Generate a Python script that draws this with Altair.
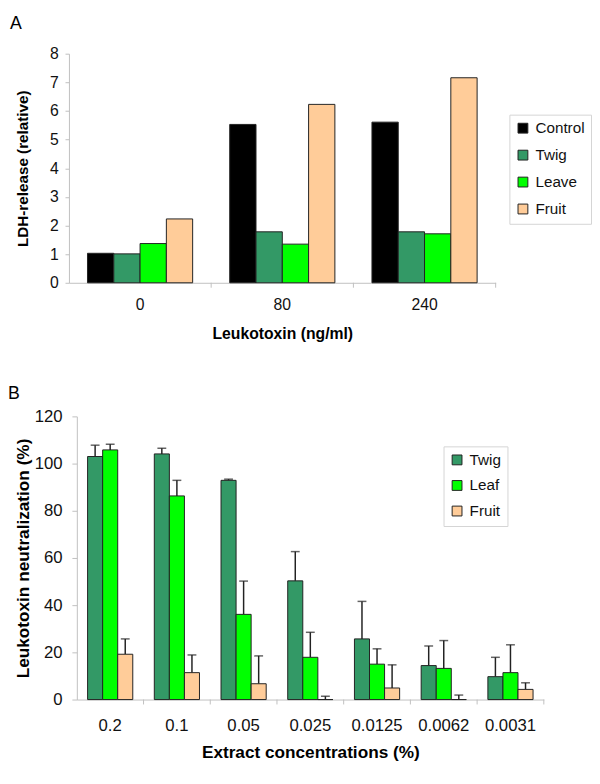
import altair as alt
import pandas as pd

# ---------------- Panel A data ----------------
a_doses = ["0", "80", "240"]
a_series = ["Control", "Twig", "Leave", "Fruit"]
a_control = [1.03, 5.53, 5.61]
a_twig = [1.01, 1.78, 1.78]
a_leave = [1.37, 1.35, 1.71]
a_fruit = [2.23, 6.23, 7.16]
a_colors = ["#000000", "#339966", "#00FF00", "#FFCC99"]

# ---------------- Panel B data ----------------
b_conc = ["0.2", "0.1", "0.05", "0.025", "0.0125", "0.0062", "0.0031"]
b_series = ["Twig", "Leaf", "Fruit"]
b_twig = [103.0, 104.1, 92.9, 50.3, 25.7, 14.4, 9.7]
b_twig_sd = [4.8, 2.4, 0.5, 12.4, 15.9, 8.3, 8.2]
b_leaf = [105.8, 86.3, 36.1, 17.9, 15.0, 13.2, 11.4]
b_leaf_sd = [2.4, 6.6, 14.1, 10.6, 6.5, 11.8, 11.8]
b_fruit = [19.2, 11.4, 6.7, 0.0, 4.9, 0.0, 4.3]
b_fruit_sd = [6.5, 7.5, 11.8, 1.4, 9.8, 1.9, 2.8]
b_colors = ["#339966", "#00FF00", "#FFCC99"]

rows_a = []
for s, vals in zip(a_series, [a_control, a_twig, a_leave, a_fruit]):
    for d, v in zip(a_doses, vals):
        rows_a.append({"dose": d, "series": s, "value": v})
df_a = pd.DataFrame(rows_a)

rows_b = []
for s, vals, sds in zip(b_series, [b_twig, b_leaf, b_fruit],
                        [b_twig_sd, b_leaf_sd, b_fruit_sd]):
    for c, v, e in zip(b_conc, vals, sds):
        rows_b.append({"conc": c, "series": s, "value": v, "upper": v + e})
df_b = pd.DataFrame(rows_b)

AX = "#c0c0c0"
INK = "#222222"

# ---------------- Panel A ----------------
A_W, A_H = 426, 233
ax_a = alt.Axis(labelAngle=0, ticks=False, domainColor=AX, labelFontSize=16,
                labelPadding=13.8, labelColor="#111111",
                titleFontSize=16, titleFontWeight="bold",
                titlePadding=13.7, titleColor="#000000")
sc_a = alt.Scale(range=[-8, 426], paddingInner=0, paddingOuter=0)
xoa = alt.XOffset("series:N", sort=a_series,
                  scale=alt.Scale(paddingOuter=0.705, paddingInner=0))
ya = alt.Y("value:Q", scale=alt.Scale(domain=[0, 8], nice=False),
           title="LDH-release (relative)",
           axis=alt.Axis(values=list(range(9)), offset=8, grid=False,
                         domainColor=AX, tickColor=AX, tickSize=4,
                         labelFontSize=16, labelPadding=7, labelColor="#111111",
                         titleFontSize=15.5, titleFontWeight="bold",
                         titlePadding=19.5, titleColor="#000000"))

bars_a = alt.Chart(df_a).mark_bar(stroke=INK, strokeWidth=1).encode(
    x=alt.X("dose:N", sort=a_doses, title="Leukotoxin (ng/ml)", scale=sc_a, axis=ax_a),
    xOffset=xoa, y=ya,
    fill=alt.Fill("series:N", sort=a_series,
                  scale=alt.Scale(domain=a_series, range=a_colors),
                  title=None,
                  legend=alt.Legend(orient="none", legendX=440, legendY=62,
                                    symbolType="square", symbolSize=100,
                                    symbolStrokeColor=INK, symbolStrokeWidth=1,
                                    labelFontSize=15.5, labelColor="#111111",
                                    labelOffset=5, rowPadding=10.4,
                                    padding=6, strokeColor="#d4d4d4",
                                    fillColor="#ffffff")),
)
seps_a = alt.Chart(pd.DataFrame({"dose": a_doses})).mark_rule(
    color=AX, strokeWidth=1).encode(
    x=alt.X("dose:N", sort=a_doses, title="Leukotoxin (ng/ml)", scale=sc_a,
            axis=ax_a, bandPosition=1),
    y=alt.value(A_H), y2=alt.value(A_H + 5),
)
panel_a = alt.layer(bars_a, seps_a).properties(
    width=A_W, height=A_H,
    title=alt.TitleParams("A", anchor="start", frame="group", dx=-68,
                          fontSize=18, fontWeight="normal", offset=13.5,
                          color="#000000"),
)

# ---------------- Panel B ----------------
B_W, B_H = 475, 288
ax_b = alt.Axis(labelAngle=0, ticks=False, domainColor=AX, labelFontSize=17,
                labelPadding=18.8, labelColor="#111111",
                titleFontSize=17.5, titleFontWeight="bold",
                titlePadding=10.6, titleColor="#000000")
sc_b = alt.Scale(paddingInner=0, paddingOuter=0)
xob = alt.XOffset("series:N", sort=b_series,
                  scale=alt.Scale(paddingOuter=0.715, paddingInner=0))
yb = alt.Y("value:Q", scale=alt.Scale(domain=[0, 120], nice=False),
           title="Leukotoxin neutralization (%)",
           axis=alt.Axis(values=list(range(0, 121, 20)), grid=False,
                         domainColor=AX, tickColor=AX, tickSize=5,
                         labelFontSize=17, labelPadding=10, labelColor="#111111",
                         titleFontSize=17.5, titleFontWeight="bold",
                         titlePadding=1.4, titleColor="#000000"))
xb = alt.X("conc:N", sort=b_conc, title="Extract concentrations (%)",
           scale=sc_b, axis=ax_b)

base_b = alt.Chart(df_b)
bars_b = base_b.mark_bar(stroke=INK, strokeWidth=1).encode(
    x=xb, xOffset=xob, y=yb,
    fill=alt.Fill("series:N", sort=b_series,
                  scale=alt.Scale(domain=b_series, range=b_colors),
                  title=None,
                  legend=alt.Legend(orient="none", legendX=373, legendY=30.5,
                                    symbolType="square", symbolSize=100,
                                    symbolStrokeColor=INK, symbolStrokeWidth=1,
                                    labelFontSize=15.5, labelColor="#111111",
                                    labelOffset=5, rowPadding=9,
                                    padding=6, strokeColor="#d4d4d4",
                                    fillColor="#ffffff")),
)
stems_b = base_b.mark_rule(color=INK, strokeWidth=1.5).encode(
    x=xb, xOffset=xob, y=yb, y2="upper:Q",
)
caps_b = base_b.mark_tick(color=INK, orient="horizontal", size=9,
                          thickness=1.5).encode(
    x=xb, xOffset=xob, y=alt.Y("upper:Q", title="Leukotoxin neutralization (%)"),
)
seps_b = alt.Chart(pd.DataFrame({"conc": b_conc})).mark_rule(
    color=AX, strokeWidth=1).encode(
    x=alt.X("conc:N", sort=b_conc, title="Extract concentrations (%)",
            scale=sc_b, axis=ax_b, bandPosition=1),
    y=alt.value(B_H), y2=alt.value(B_H + 5),
)
panel_b = alt.layer(stems_b, caps_b, bars_b, seps_b).properties(
    width=B_W, height=B_H,
    title=alt.TitleParams("B", anchor="start", frame="group", dx=-70,
                          fontSize=18, fontWeight="normal", offset=5.1,
                          color="#000000"),
)

chart = alt.vconcat(panel_a, panel_b, spacing=42.9).resolve_scale(
    x="independent", y="independent", fill="independent", xOffset="independent"
).resolve_legend(fill="independent").properties(
    padding={"left": 0, "top": 0, "right": 0, "bottom": -2},
).configure(font="Liberation Sans").configure_view(stroke=None)

chart.save("out.html", embed_options={"renderer": "svg", "actions": False})
